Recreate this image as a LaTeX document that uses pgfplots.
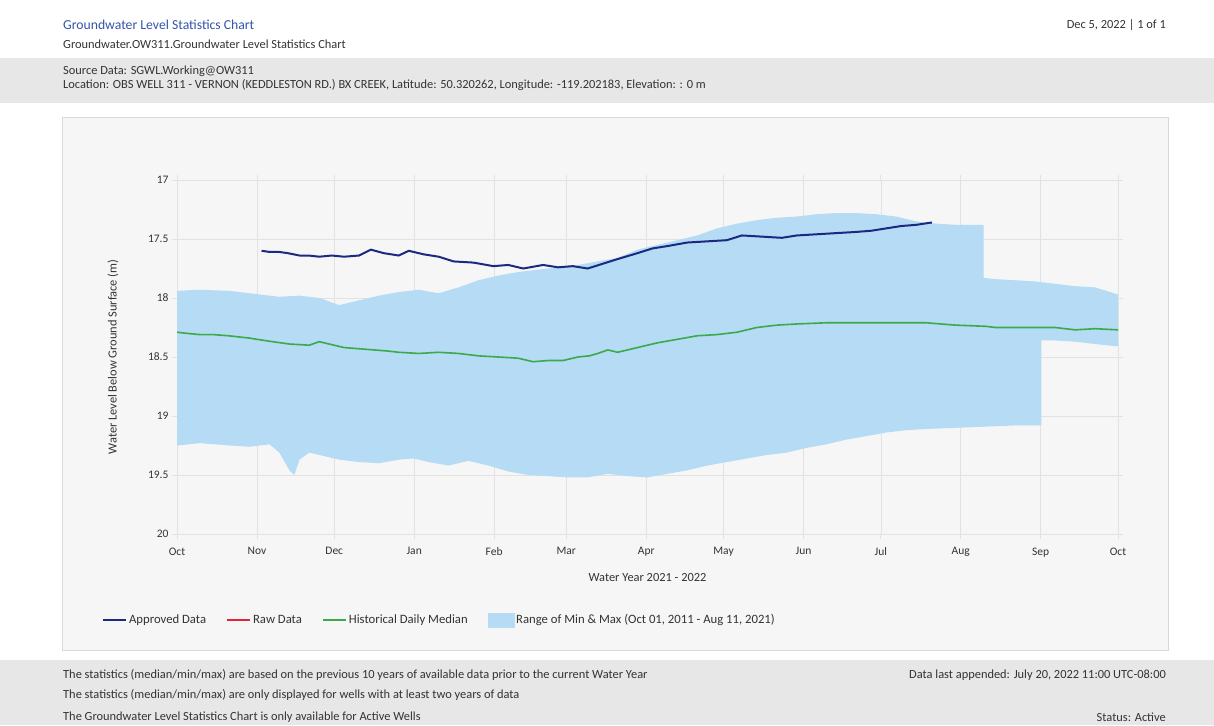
\documentclass[border=0pt]{standalone}
\usepackage{fontspec}
\setmainfont{Carlito}
\usepackage{pgfplots}
\pgfplotsset{compat=1.18}
\definecolor{navy}{HTML}{1B2A80}
\definecolor{medgreen}{HTML}{3AAA4A}
\definecolor{rawred}{HTML}{E3223B}
\definecolor{rangeblue}{HTML}{B5DBF5}
\definecolor{titleblue}{HTML}{3355AA}
\definecolor{txt}{HTML}{333333}
\definecolor{band}{HTML}{E7E7E7}
\definecolor{panel}{HTML}{F6F6F6}
\definecolor{gridc}{HTML}{E2E2E2}
\newcommand{\fs}{\fontsize{12.4}{14}\selectfont}
\newcommand{\fl}{\fontsize{12.7}{14}\selectfont}
\newcommand{\ft}{\fontsize{11.5}{13}\selectfont}
\begin{document}
\begin{tikzpicture}[x=1pt,y=1pt]
\useasboundingbox (0,0) rectangle (1214,725);
\fill[white] (0,0) rectangle (1214,725);
\fill[band] (0,622) rectangle (1214,667);
\filldraw[fill=panel, draw=gray!30] (62,75) rectangle (1168,608);
\fill[band] (0,0) rectangle (1214,65);
\node[anchor=west, inner sep=0, text=titleblue, font=\fontsize{13.7}{15}\selectfont] at (63,700) {Groundwater Level Statistics Chart};
\node[anchor=west, inner sep=0, text=txt, font=\fs] at (63,681) {Groundwater.OW311.Groundwater Level Statistics Chart};
\node[anchor=east, inner sep=0, text=txt, font=\fs] at (1166,700) {Dec 5, 2022 | 1 of 1};
\node[anchor=west, inner sep=0, text=txt, font=\fs] at (63,654) {Source Data: SGWL.Working@OW311};
\node[anchor=west, inner sep=0, text=txt, font=\fs] at (63,640) {Location: OBS WELL 311 - VERNON (KEDDLESTON RD.) BX CREEK, Latitude: 50.320262, Longitude: -119.202183, Elevation: : 0 m};
\node[anchor=west, inner sep=0, text=txt, font=\fs] at (63,50) {The statistics (median/min/max) are based on the previous 10 years of available data prior to the current Water Year};
\node[anchor=west, inner sep=0, text=txt, font=\fs] at (63,30) {The statistics (median/min/max) are only displayed for wells with at least two years of data};
\node[anchor=west, inner sep=0, text=txt, font=\fs] at (63,8) {The Groundwater Level Statistics Chart is only available for Active Wells};
\node[anchor=east, inner sep=0, text=txt, font=\fs] at (1166,50) {Data last appended: July 20, 2022 11:00 UTC-08:00};
\node[anchor=east, inner sep=0, text=txt, font=\fs] at (1166,8) {Status: Active};
\begin{axis}[
  at={(177pt,191pt)}, anchor=south west,
  scale only axis, width=941pt, height=354pt,
  xmin=0, xmax=365, ymin=17, ymax=20, y dir=reverse,
  xtick={0,31,61,92,123,151,182,212,243,273,304,335,365},
  xticklabels={Oct,Nov,Dec,Jan,Feb,Mar,Apr,May,Jun,Jul,Aug,Sep,Oct},
  ytick={17,17.5,18,18.5,19,19.5,20},
  yticklabels={17,17.5,18,18.5,19,19.5,20},
  /pgf/number format/assume math mode=true,
  ticklabel style={font=\ft, text=txt},
  xticklabel style={yshift=-5pt},
  grid=major, grid style={gridc, line width=0.6pt},
  axis line style={gridc, line width=0.8pt},
  tick style={gridc, line width=0.8pt},
  tick align=outside, major tick length=5pt,
  xlabel={Water Year 2021 - 2022},
  ylabel={Water Level Below Ground Surface (m)},
  label style={font=\fs, text=txt},
  xlabel style={at={(axis description cs:0.5,-0.124)}, anchor=center},
  ylabel style={at={(axis description cs:-0.068,0.5)}, anchor=center},
  legend columns=4,
  legend style={at={(axis description cs:-0.083,-0.243)}, anchor=west, draw=none, fill=none, font=\fl, text=txt,
    /tikz/every even column/.append style={column sep=18pt}},
  legend cell align=left,
]
\addplot[fill=rangeblue, draw=none, forget plot] coordinates {
(0,17.94) (8.9,17.93) (20.4,17.94) (28.2,17.96) (39.7,17.99) (47.5,17.98) (55.2,18.00) (62.9,18.06) (70.6,18.02) (78.3,17.98) (86.0,17.95) (93.8,17.93) (101.5,17.96) (109.2,17.91) (116.9,17.85) (124.6,17.81) (132.3,17.78) (140.0,17.76) (147.8,17.74) (155.5,17.72) (163.2,17.69) (170.9,17.66) (178.6,17.59) (186.3,17.55) (194.1,17.51) (201.8,17.47) (209.5,17.41) (217.2,17.37) (224.9,17.34) (232.6,17.32) (240.4,17.31) (248.1,17.29) (255.8,17.28) (263.5,17.28) (271.2,17.29) (278.9,17.31) (286.7,17.35) (294.4,17.37) (302.1,17.38) (312.9,17.38)
(312.9,17.83) (317.5,17.84) (325.2,17.85) (333.0,17.86) (340.6,17.88) (348.4,17.90) (356.1,17.91) (365,17.97)
(365,18.41) (356.1,18.39) (348.4,18.37) (340.6,18.36) (335.3,18.36)
(335.3,19.08) (325.2,19.08) (313.7,19.09) (302.1,19.10) (290.5,19.11) (282.8,19.12) (275.1,19.14) (267.4,19.17) (259.6,19.20) (251.9,19.24) (244.2,19.27) (236.5,19.31) (228.8,19.33) (221.1,19.36) (213.3,19.39) (205.6,19.42) (197.9,19.46) (190.2,19.49) (182.5,19.52) (174.8,19.51) (167.1,19.49) (159.3,19.52) (151.6,19.52) (143.9,19.51) (136.2,19.50) (128.5,19.47) (120.8,19.42) (113.0,19.38) (105.3,19.42) (97.6,19.39) (91.8,19.36) (86.0,19.37) (78.3,19.40) (70.6,19.39) (62.9,19.37) (55.2,19.33) (51.3,19.31) (47.5,19.37) (45.5,19.50) (43.6,19.46) (39.7,19.31) (35.9,19.24) (28.2,19.26) (20.4,19.25) (8.9,19.23) (0,19.25)
} -- cycle;
\addplot[medgreen, line width=1.6pt, forget plot] coordinates {
(0,18.29) (4,18.30) (8.9,18.31) (14,18.31) (20,18.32) (28.2,18.34) (31,18.35) (37,18.37) (43.6,18.39) (51.3,18.40) (55.2,18.37) (59.0,18.39) (64.8,18.42) (70.6,18.43) (76.4,18.44) (82,18.45) (86.0,18.46) (93.8,18.47) (101.5,18.46) (109.2,18.47) (116.9,18.49) (124.6,18.50) (132.3,18.51) (138.1,18.54) (143.9,18.53) (149.7,18.53) (155.5,18.50) (160,18.49) (163.2,18.47) (167.1,18.44) (170.9,18.46) (178.6,18.42) (186.3,18.38) (194.1,18.35) (201.8,18.32) (209.5,18.31) (217.2,18.29) (224.9,18.25) (232.6,18.23) (240.4,18.22) (251.9,18.21) (263.5,18.21) (278.9,18.21) (290.5,18.21) (302.1,18.23) (313.7,18.24) (317.5,18.25) (329.1,18.25) (340.6,18.25) (348.4,18.27) (356.1,18.26) (365,18.27)
};
\addplot[navy, line width=2pt, forget plot] coordinates {
(32.8,17.60) (36,17.61) (39.7,17.61) (43,17.62) (47.5,17.64) (51,17.64) (55.2,17.65) (60,17.64) (64.8,17.65) (70.6,17.64) (75.2,17.59) (80.2,17.62) (86.0,17.64) (89.9,17.60) (95.7,17.63) (101.5,17.65) (107.3,17.69) (115.0,17.70) (122.7,17.73) (128.5,17.72) (134.3,17.75) (142.0,17.72) (147.8,17.74) (153.5,17.73) (159.3,17.75) (165.1,17.71) (170.9,17.67) (178.6,17.62) (184.4,17.58) (190.2,17.56) (197.9,17.53) (205.6,17.52) (213.3,17.51) (219.1,17.47) (226.9,17.48) (234.6,17.49) (240.4,17.47) (248.1,17.46) (255.8,17.45) (263.5,17.44) (269.3,17.43) (275.1,17.41) (280.9,17.39) (286.7,17.38) (292.8,17.36)
};
\addlegendimage{legend image code/.code={\draw[navy, line width=2pt] (0pt,0pt) -- (23pt,0pt);}}
\addlegendentry{Approved Data}
\addlegendimage{legend image code/.code={\draw[rawred, line width=2pt] (0pt,0pt) -- (23pt,0pt);}}
\addlegendentry{Raw Data}
\addlegendimage{legend image code/.code={\draw[medgreen, line width=2pt] (0pt,0pt) -- (23pt,0pt);}}
\addlegendentry{Historical Daily Median}
\addlegendimage{legend image code/.code={\fill[rangeblue] (0pt,-7pt) rectangle (26pt,7pt);}}
\addlegendentry{Range of Min \& Max (Oct 01, 2011 - Aug 11, 2021)}
\end{axis}
\end{tikzpicture}
\end{document}
